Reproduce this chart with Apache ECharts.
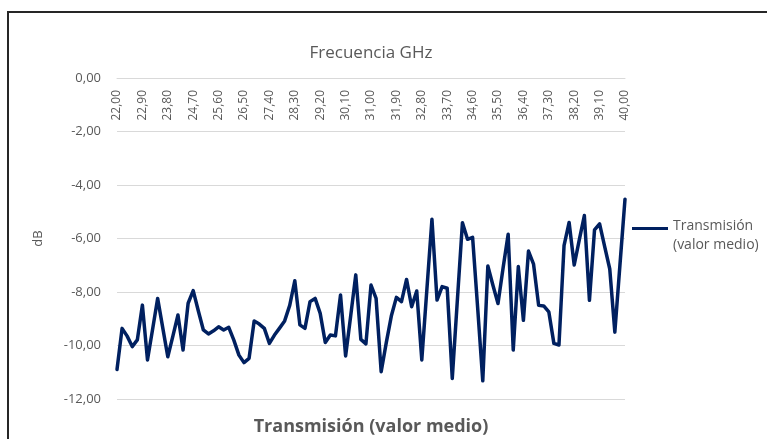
<!DOCTYPE html>
<html>
<head>
<meta charset="utf-8">
<script src="https://cdn.jsdelivr.net/npm/echarts@6/dist/echarts.min.js"></script>
<style>
  html, body { margin: 0; padding: 0; background: #fff; }
  #main { width: 767px; height: 439px; }
</style>
</head>
<body>
<div id="main"></div>
<script>
// frequency sweep, GHz
var frequencies = [
  22.00, 22.18, 22.36, 22.54, 22.72, 22.90, 23.08, 23.26, 23.44, 23.62,
  23.80, 23.98, 24.16, 24.34, 24.52, 24.70, 24.88, 25.06, 25.24, 25.42,
  25.60, 25.78, 25.96, 26.14, 26.32, 26.50, 26.68, 26.86, 27.04, 27.22,
  27.40, 27.58, 27.76, 27.94, 28.12, 28.30, 28.48, 28.66, 28.84, 29.02,
  29.20, 29.38, 29.56, 29.74, 29.92, 30.10, 30.28, 30.46, 30.64, 30.82,
  31.00, 31.18, 31.36, 31.54, 31.72, 31.90, 32.08, 32.26, 32.44, 32.62,
  32.80, 32.98, 33.16, 33.34, 33.52, 33.70, 33.88, 34.06, 34.24, 34.42,
  34.60, 34.78, 34.96, 35.14, 35.32, 35.50, 35.68, 35.86, 36.04, 36.22,
  36.40, 36.58, 36.76, 36.94, 37.12, 37.30, 37.48, 37.66, 37.84, 38.02,
  38.20, 38.38, 38.56, 38.74, 38.92, 39.10, 39.28, 39.46, 39.64, 39.82,
  40.00
];

// transmission (mean value), dB
var transmission = [
  -10.90, -9.36, -9.65, -10.04, -9.79, -8.49, -10.54, -9.40, -8.24, -9.33,
  -10.42, -9.65, -8.86, -10.17, -8.42, -7.95, -8.70, -9.42, -9.57, -9.45,
  -9.30, -9.42, -9.32, -9.80, -10.36, -10.64, -10.48, -9.08, -9.20, -9.36,
  -9.92, -9.61, -9.35, -9.08, -8.50, -7.58, -9.23, -9.36, -8.36, -8.24,
  -8.80, -9.89, -9.61, -9.64, -8.11, -10.39, -8.90, -7.36, -9.77, -9.94,
  -7.74, -8.24, -10.98, -9.90, -8.90, -8.20, -8.36, -7.53, -8.55, -7.96,
  -10.54, -7.90, -5.28, -8.30, -7.80, -7.86, -11.23, -8.30, -5.41, -6.03,
  -5.96, -8.60, -11.32, -7.03, -7.75, -8.43, -7.10, -5.84, -10.17, -7.05,
  -9.06, -6.47, -6.96, -8.50, -8.52, -8.74, -9.92, -9.98, -6.27, -5.40,
  -6.99, -6.05, -5.14, -8.31, -5.68, -5.45, -6.30, -7.14, -9.50, -7.00,
  -4.53
];

var seriesName = 'Transmisión (valor medio)';
var txt = '#595959';
var grid = '#d9d9d9';

function comma(v) {
  return Number(v).toFixed(2).replace('.', ',');
}

var myChart = echarts.init(document.getElementById('main'));

var option = {
  animation: false,
  textStyle: { fontFamily: 'Open Sans' },
  title: [
    {
      text: 'Frecuencia GHz',
      left: 366, top: 40, textAlign: 'center',
      textStyle: { color: txt, fontSize: 17, fontWeight: 'normal' }
    },
    {
      text: 'Transmisión (valor medio)',
      left: 366, top: 413, textAlign: 'center',
      textStyle: { color: txt, fontSize: 18, fontWeight: 'bold' }
    }
  ],
  legend: {
    data: [{ name: seriesName, icon: 'rect' }],
    left: 627, top: 204,
    itemWidth: 36, itemHeight: 3, itemGap: 0,
    formatter: function () {
      return '{p| }\n{t|Transmisión}\n{t|(valor medio)}';
    },
    textStyle: {
      color: txt, fontSize: 14,
      rich: {
        p: { lineHeight: 14, fontSize: 1 },
        t: { lineHeight: 19, fontSize: 14, color: txt }
      }
    }
  },
  grid: { left: 117, right: 142, top: 78, bottom: 40 },
  xAxis: {
    type: 'category',
    position: 'top',
    data: frequencies,
    boundaryGap: false,
    axisLine: { lineStyle: { color: grid } },
    axisTick: { show: false },
    axisLabel: {
      inside: true,
      interval: 4, rotate: 90, margin: 12,
      color: txt, fontSize: 12,
      formatter: comma
    },
    splitLine: { show: false }
  },
  yAxis: {
    type: 'value',
    min: -12, max: 0, interval: 2,
    name: 'dB', nameLocation: 'middle', nameGap: 72,
    nameTextStyle: { color: txt, fontSize: 13 },
    axisLine: { show: false },
    axisTick: { show: false },
    axisLabel: { color: txt, fontSize: 13, margin: 16, formatter: comma },
    splitLine: { lineStyle: { color: grid, width: 1 } }
  },
  series: [
    {
      name: seriesName,
      type: 'line',
      data: transmission,
      showSymbol: false,
      symbol: 'none',
      lineStyle: { color: '#002060', width: 3.5, join: 'round', cap: 'round' },
      itemStyle: { color: '#002060' }
    }
  ],
  graphic: [
    {
      type: 'rect',
      shape: { x: 8, y: 12, width: 820, height: 500 },
      style: { fill: 'none', stroke: '#262626', lineWidth: 2 },
      silent: true
    }
  ]
};

option && myChart.setOption(option);
</script>
</body>
</html>
